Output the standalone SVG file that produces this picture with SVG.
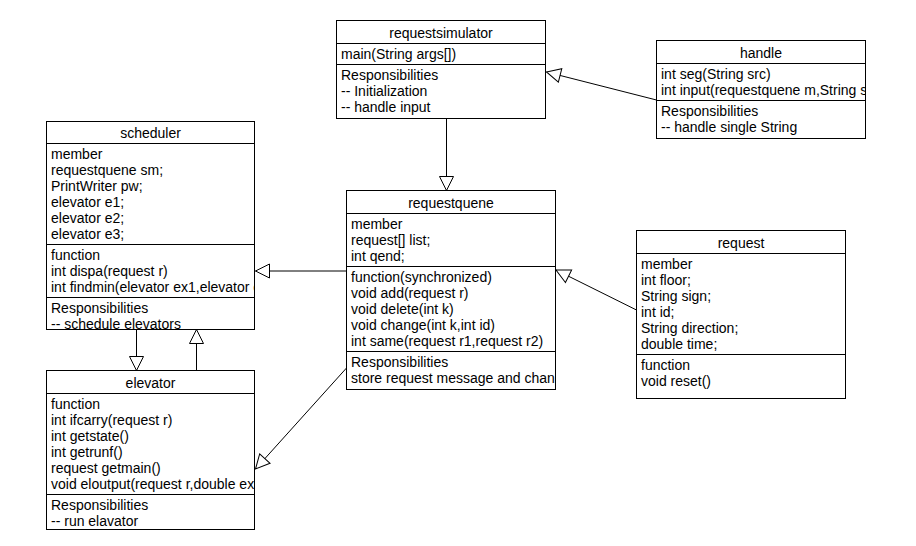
<svg xmlns="http://www.w3.org/2000/svg" width="916" height="546" viewBox="0 0 916 546">
<style>
  .box { fill: #ffffff; stroke: #000000; stroke-width: 1; }
  .div { stroke: #000000; stroke-width: 1; }
  text { font-family: "Liberation Sans", Arial, sans-serif; font-size: 14px; fill: #000000; }
  .title { text-anchor: middle; }
  .conn { stroke: #000000; stroke-width: 1; fill: none; marker-end: url(#gen); }
</style>
<defs>
  <marker id="gen" markerUnits="userSpaceOnUse" markerWidth="16" markerHeight="16" refX="14" refY="7" orient="auto" viewBox="-1 -1 16 16">
    <path d="M0,0 L14,7 L0,14 Z" fill="#ffffff" stroke="#000000" stroke-width="1"/>
  </marker>
  <clipPath id="c-rs"><rect x="336.5" y="20.5" width="209" height="98"/></clipPath>
  <clipPath id="c-h"><rect x="656.5" y="40.5" width="209" height="98"/></clipPath>
  <clipPath id="c-s"><rect x="46.5" y="121.5" width="208" height="208"/></clipPath>
  <clipPath id="c-rq"><rect x="346.5" y="190.5" width="209" height="199"/></clipPath>
  <clipPath id="c-r"><rect x="636.5" y="230.5" width="209" height="168"/></clipPath>
  <clipPath id="c-e"><rect x="46.5" y="370.5" width="208" height="159"/></clipPath>
</defs>
<rect x="0" y="0" width="916" height="546" fill="#ffffff"/>

<g id="connectors">
  <line class="conn" x1="446.5" y1="118.5" x2="446.5" y2="190.5"/>
  <line class="conn" x1="656.5" y1="100" x2="546.5" y2="72"/>
  <line class="conn" x1="346.5" y1="271" x2="255.5" y2="271"/>
  <line class="conn" x1="636.5" y1="310" x2="556" y2="270"/>
  <line class="conn" x1="346.5" y1="368" x2="255.5" y2="469"/>
  <line class="conn" x1="136.5" y1="329.5" x2="136.5" y2="370.5"/>
  <line class="conn" x1="196.5" y1="370.5" x2="196.5" y2="329.5"/>
</g>

<g id="requestsimulator">
  <rect class="box" x="336.5" y="20.5" width="209" height="98"/>
  <line class="div" x1="336.5" y1="43.5" x2="545.5" y2="43.5"/>
  <line class="div" x1="336.5" y1="64.5" x2="545.5" y2="64.5"/>
  <g clip-path="url(#c-rs)">
    <text class="title" x="441" y="38">requestsimulator</text>
    <text x="341" y="59">main(String args[])</text>
    <text x="341" y="80">Responsibilities</text>
    <text x="341" y="96">-- Initialization</text>
    <text x="341" y="112">-- handle input</text>
  </g>
</g>

<g id="handle">
  <rect class="box" x="656.5" y="40.5" width="209" height="98"/>
  <line class="div" x1="656.5" y1="63.5" x2="865.5" y2="63.5"/>
  <line class="div" x1="656.5" y1="100.5" x2="865.5" y2="100.5"/>
  <g clip-path="url(#c-h)">
    <text class="title" x="761" y="58">handle</text>
    <text x="661" y="79">int seg(String src)</text>
    <text x="661" y="95">int input(requestquene m,String src)</text>
    <text x="661" y="116">Responsibilities</text>
    <text x="661" y="132">-- handle single String</text>
  </g>
</g>

<g id="scheduler">
  <rect class="box" x="46.5" y="121.5" width="208" height="208"/>
  <line class="div" x1="46.5" y1="143.5" x2="254.5" y2="143.5"/>
  <line class="div" x1="46.5" y1="244.5" x2="254.5" y2="244.5"/>
  <line class="div" x1="46.5" y1="297.5" x2="254.5" y2="297.5"/>
  <g clip-path="url(#c-s)">
    <text class="title" x="150.5" y="138">scheduler</text>
    <text x="51" y="159">member</text>
    <text x="51" y="175">requestquene sm;</text>
    <text x="51" y="191">PrintWriter pw;</text>
    <text x="51" y="207">elevator e1;</text>
    <text x="51" y="223">elevator e2;</text>
    <text x="51" y="239">elevator e3;</text>
    <text x="51" y="260">function</text>
    <text x="51" y="276">int dispa(request r)</text>
    <text x="51" y="292">int findmin(elevator ex1,elevator ex2)</text>
    <text x="51" y="313">Responsibilities</text>
    <text x="51" y="329">-- schedule elevators</text>
  </g>
</g>

<g id="requestquene">
  <rect class="box" x="346.5" y="190.5" width="209" height="199"/>
  <line class="div" x1="346.5" y1="213.5" x2="555.5" y2="213.5"/>
  <line class="div" x1="346.5" y1="266.5" x2="555.5" y2="266.5"/>
  <line class="div" x1="346.5" y1="351.5" x2="555.5" y2="351.5"/>
  <g clip-path="url(#c-rq)">
    <text class="title" x="451" y="208">requestquene</text>
    <text x="351" y="229">member</text>
    <text x="351" y="245">request[] list;</text>
    <text x="351" y="261">int qend;</text>
    <text x="351" y="282">function(synchronized)</text>
    <text x="351" y="298">void add(request r)</text>
    <text x="351" y="314">void delete(int k)</text>
    <text x="351" y="330">void change(int k,int id)</text>
    <text x="351" y="346">int same(request r1,request r2)</text>
    <text x="351" y="367">Responsibilities</text>
    <text x="351" y="383">store request message and change</text>
  </g>
</g>

<g id="request">
  <rect class="box" x="636.5" y="230.5" width="209" height="168"/>
  <line class="div" x1="636.5" y1="253.5" x2="845.5" y2="253.5"/>
  <line class="div" x1="636.5" y1="354.5" x2="845.5" y2="354.5"/>
  <g clip-path="url(#c-r)">
    <text class="title" x="741" y="248">request</text>
    <text x="641" y="269">member</text>
    <text x="641" y="285">int floor;</text>
    <text x="641" y="301">String sign;</text>
    <text x="641" y="317">int id;</text>
    <text x="641" y="333">String direction;</text>
    <text x="641" y="349">double time;</text>
    <text x="641" y="370">function</text>
    <text x="641" y="386">void reset()</text>
  </g>
</g>

<g id="elevator">
  <rect class="box" x="46.5" y="370.5" width="208" height="159"/>
  <line class="div" x1="46.5" y1="393.5" x2="254.5" y2="393.5"/>
  <line class="div" x1="46.5" y1="494.5" x2="254.5" y2="494.5"/>
  <g clip-path="url(#c-e)">
    <text class="title" x="150.5" y="388">elevator</text>
    <text x="51" y="409">function</text>
    <text x="51" y="425">int ifcarry(request r)</text>
    <text x="51" y="441">int getstate()</text>
    <text x="51" y="457">int getrunf()</text>
    <text x="51" y="473">request getmain()</text>
    <text x="51" y="489">void eloutput(request r,double ex)</text>
    <text x="51" y="510">Responsibilities</text>
    <text x="51" y="526">-- run elavator</text>
  </g>
</g>
</svg>
